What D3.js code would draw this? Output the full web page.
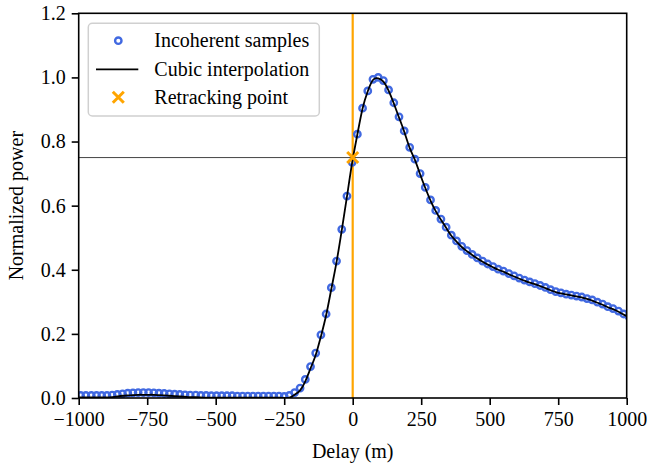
<!DOCTYPE html>
<html>
<head>
<meta charset="utf-8">
<script src="https://cdn.jsdelivr.net/npm/d3@7"></script>
<style>
  body { margin: 0; background: #fff; }
  svg { display: block; font-family: "Liberation Serif", "Times New Roman", serif; }
</style>
</head>
<body>
<svg id="chart" width="647" height="465"></svg>
<script>
// delay of each waveform sample (m)
let delays = [-1012, -993, -974, -954, -935, -916, -897, -878, -859, -840, -821, -802, -783, -764, -745,
  -726, -707, -688, -669, -650, -631, -612, -593, -573, -554, -535, -516, -497, -478, -459, -440,
  -421, -402, -383, -364, -345, -326, -307, -288, -269, -250, -231, -212, -192, -173, -154, -135,
  -116, -97, -78, -59, -40, -21, -2, 17, 36, 55, 74, 93, 112, 131, 150, 169, 188, 208, 227, 246,
  265, 284, 303, 322, 341, 360, 379, 398, 417, 436, 455, 474, 493, 512, 531, 550, 570, 589, 608,
  627, 646, 665, 684, 703, 722, 741, 760, 779, 798, 817, 836, 855, 874, 893, 912, 931, 950, 970,
  989, 1008];

// incoherent samples (normalized power)
let samples = [0.008, 0.008, 0.008, 0.008, 0.008, 0.008, 0.008, 0.009, 0.011, 0.013, 0.015, 0.016, 0.017, 0.017,
  0.017, 0.016, 0.015, 0.014, 0.013, 0.012, 0.011, 0.010, 0.009, 0.009, 0.008, 0.008, 0.007, 0.007,
  0.007, 0.007, 0.007, 0.006, 0.006, 0.006, 0.006, 0.006, 0.006, 0.006, 0.006, 0.006,
  0.005, 0.008, 0.017, 0.031, 0.058, 0.098, 0.140, 0.197, 0.262, 0.344, 0.427, 0.526, 0.630, 0.735,
  0.823, 0.904, 0.958, 0.994, 1.000, 0.990, 0.961, 0.921, 0.877, 0.833, 0.782, 0.745, 0.700, 0.657,
  0.618, 0.585, 0.558, 0.533, 0.508, 0.490, 0.473, 0.460, 0.448, 0.437, 0.427, 0.418, 0.410, 0.402,
  0.396, 0.388, 0.381, 0.374, 0.368, 0.362, 0.357, 0.351, 0.345, 0.338, 0.332, 0.328, 0.324, 0.321,
  0.318, 0.315, 0.310, 0.306, 0.299, 0.293, 0.285, 0.279, 0.271, 0.262, 0.254];

// cubic interpolation curve, read at the same delays
let interp = [0.002, 0.002, 0.002, 0.002, 0.002, 0.002, 0.002, 0.003, 0.005, 0.007, 0.008, 0.009, 0.010, 0.010,
  0.010, 0.010, 0.009, 0.008, 0.007, 0.006, 0.005, 0.004, 0.003, 0.003, 0.002, 0.001, 0.001, 0.001,
  0.001, 0.001, 0.001, 0.001, 0.001, 0.001, 0.001, 0.001, 0.001, 0.001, 0.001, 0.001,
  0.000, 0.001, 0.010, 0.024, 0.052, 0.092, 0.134, 0.192, 0.258, 0.340, 0.424, 0.523, 0.628, 0.734,
  0.822, 0.903, 0.957, 0.992, 0.997, 0.987, 0.959, 0.919, 0.875, 0.831, 0.780, 0.743, 0.698, 0.655,
  0.616, 0.583, 0.556, 0.531, 0.506, 0.488, 0.471, 0.458, 0.446, 0.435, 0.425, 0.416, 0.408, 0.400,
  0.394, 0.386, 0.379, 0.372, 0.366, 0.360, 0.355, 0.349, 0.343, 0.336, 0.330, 0.326, 0.323, 0.320,
  0.317, 0.314, 0.309, 0.304, 0.297, 0.291, 0.283, 0.277, 0.269, 0.260, 0.252];

let retrackDelay = 0;
let retrackPower = 0.75;

let xTicks = [-1000, -750, -500, -250, 0, 250, 500, 750, 1000];
let yTicks = [0, 0.2, 0.4, 0.6, 0.8, 1.0, 1.2];

let legendLabels = ["Incoherent samples", "Cubic interpolation", "Retracking point"];

const plotLeft = 78.7, plotRight = 626.7, plotTop = 13.3, plotBottom = 398;
const svg = d3.select("#chart");

let x = d3.scaleLinear().domain([-1000, 1000]).range([plotLeft, plotRight]);
let y = d3.scaleLinear().domain([0, 1.2]).range([plotBottom, plotTop]);

svg.append("defs").append("clipPath").attr("id", "plotclip")
  .append("rect").attr("x", plotLeft).attr("y", plotTop)
  .attr("width", plotRight - plotLeft).attr("height", plotBottom - plotTop);

const plot = svg.append("g").attr("clip-path", "url(#plotclip)");

// threshold and retracking lines
plot.append("line")
  .attr("x1", plotLeft).attr("x2", plotRight)
  .attr("y1", y(retrackPower)).attr("y2", y(retrackPower))
  .attr("stroke", "#444").attr("stroke-width", 1);

plot.append("line")
  .attr("x1", x(retrackDelay)).attr("x2", x(retrackDelay))
  .attr("y1", plotTop).attr("y2", plotBottom)
  .attr("stroke", "orange").attr("stroke-width", 2.2);

// samples
plot.append("g").selectAll("circle")
  .data(delays.map((d, i) => [d, samples[i]]))
  .enter().append("circle")
  .attr("cx", d => x(d[0]))
  .attr("cy", d => y(d[1]))
  .attr("r", 3.2)
  .attr("fill", "none")
  .attr("stroke", "royalblue")
  .attr("stroke-width", 2.4);

// interpolation curve
let line = d3.line()
  .x(d => x(d[0]))
  .y(d => y(d[1]))
  .curve(d3.curveNatural);

plot.append("path")
  .datum(delays.map((d, i) => [d, interp[i]]))
  .attr("d", line)
  .attr("fill", "none")
  .attr("stroke", "black")
  .attr("stroke-width", 1.8);

// retracking point marker
function drawX(g, cx, cy, s) {
  g.append("path")
    .attr("d", `M${cx - s},${cy - s}L${cx + s},${cy + s}M${cx - s},${cy + s}L${cx + s},${cy - s}`)
    .attr("stroke", "orange").attr("stroke-width", 3).attr("fill", "none");
}
drawX(svg, x(retrackDelay), y(retrackPower), 5.5);

// axes
let xAxis = svg.append("g")
  .attr("transform", `translate(0,${plotBottom})`)
  .call(d3.axisBottom(x).tickValues(xTicks).tickSize(7).tickSizeOuter(0).tickPadding(7)
    .tickFormat(d => d < 0 ? "\u2212" + Math.abs(d) : d));
xAxis.select(".domain").remove();
xAxis.selectAll("line").attr("stroke", "black").attr("stroke-width", 1.6);
xAxis.selectAll("text").attr("font-size", 20).attr("font-family", "Liberation Serif").attr("fill", "black");

let yAxis = svg.append("g")
  .attr("transform", `translate(${plotLeft},0)`)
  .call(d3.axisLeft(y).tickValues(yTicks).tickSize(7).tickSizeOuter(0).tickPadding(6)
    .tickFormat(d3.format(".1f")));
yAxis.select(".domain").remove();
yAxis.selectAll("line").attr("stroke", "black").attr("stroke-width", 1.6);
yAxis.selectAll("text").attr("font-size", 20).attr("font-family", "Liberation Serif").attr("fill", "black");

// frame
svg.append("rect")
  .attr("x", plotLeft).attr("y", plotTop)
  .attr("width", plotRight - plotLeft).attr("height", plotBottom - plotTop)
  .attr("fill", "none").attr("stroke", "black").attr("stroke-width", 1.6);

// axis labels
svg.append("text")
  .attr("x", (plotLeft + plotRight) / 2).attr("y", 458)
  .attr("text-anchor", "middle").attr("font-size", 20)
  .text("Delay (m)");

svg.append("text")
  .attr("transform", `translate(22.5,${(plotTop + plotBottom) / 2}) rotate(-90)`)
  .attr("text-anchor", "middle").attr("font-size", 20)
  .text("Normalized power");

// legend
const legend = svg.append("g");
legend.append("rect")
  .attr("x", 88.3).attr("y", 23.3).attr("width", 231).attr("height", 92.7)
  .attr("rx", 4).attr("fill", "white").attr("fill-opacity", 0.8)
  .attr("stroke", "#d0d0d0").attr("stroke-width", 1.5);

let rowY = [40.7, 69.3, 97.3];
legend.append("circle")
  .attr("cx", 118.3).attr("cy", rowY[0]).attr("r", 3.2)
  .attr("fill", "none").attr("stroke", "royalblue").attr("stroke-width", 2.4);
legend.append("line")
  .attr("x1", 96).attr("x2", 138.3).attr("y1", rowY[1]).attr("y2", rowY[1])
  .attr("stroke", "black").attr("stroke-width", 1.8);
drawX(legend, 118.3, rowY[2], 5.5);

legend.selectAll("text.lbl")
  .data(legendLabels)
  .enter().append("text")
  .attr("class", "lbl")
  .attr("x", 154.3)
  .attr("y", (d, i) => rowY[i])
  .attr("dy", "0.33em")
  .attr("font-size", 20)
  .text(d => d);
</script>
</body>
</html>
